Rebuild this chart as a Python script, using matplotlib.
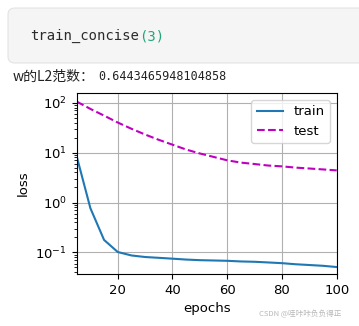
import matplotlib
matplotlib.use('Agg')
import matplotlib.pyplot as plt
from matplotlib.patches import FancyBboxPatch

# 每 5 个 epoch 记录一次损失
epochs = [5, 10, 15, 20, 25, 30, 35, 40, 45, 50,
          55, 60, 65, 70, 75, 80, 85, 90, 95, 100]
train_loss = [8.4, 0.77, 0.178, 0.102, 0.087, 0.081, 0.078, 0.075, 0.072, 0.070,
              0.069, 0.068, 0.066, 0.065, 0.063, 0.061, 0.058, 0.056, 0.054, 0.051]
test_loss = [105, 75, 55, 40, 30, 23, 18, 14.4, 11.5, 9.6,
             8.2, 7.0, 6.3, 5.9, 5.5, 5.3, 5.0, 4.8, 4.6, 4.4]
legend_labels = ['train', 'test']
code_text = 'train_concise'
code_arg = '(3)'
norm_label = 'w的L2范数：'
norm_value = '0.6443465948104858'
watermark = 'CSDN @哇咔咔负负得正'

W, H = 359, 326
fig = plt.figure(figsize=(W / 100, H / 100), dpi=100)

# 代码单元格背景
box = FancyBboxPatch((8 / W, 1 - 63 / H), 1.2, 55 / H,
                     boxstyle='round,pad=0,rounding_size=0.02',
                     transform=fig.transFigure, facecolor='#f5f5f6',
                     edgecolor='#e3e3e3', linewidth=0.8)
fig.patches.append(box)

t = fig.text(30 / W, 1 - 36 / H, code_text, family='DejaVu Sans Mono',
             fontsize=10, color='#2b2b2b', va='center')
fig.canvas.draw()
bb = t.get_window_extent()
fig.text(bb.x1 / W, 1 - 36 / H, code_arg, family='DejaVu Sans Mono',
         fontsize=10, color='#22a37a', va='center')

fig.text(13 / W, 1 - 77 / H, norm_label, family=['Noto Sans CJK SC', 'DejaVu Sans'],
         fontsize=10, color='#222222', va='center')
fig.text(98 / W, 1 - 77 / H, norm_value, family='DejaVu Sans Mono',
         fontsize=8.5, color='#222222', va='center')

ax = fig.add_axes([76.7 / W, 1 - 274 / H, 260 / W, 180.7 / H])
ax.plot(epochs, train_loss, color='#1f77b4', linewidth=1.5, label=legend_labels[0])
ax.plot(epochs, test_loss, color='m', linestyle='--', linewidth=1.5, label=legend_labels[1])
ax.set_yscale('log')
ax.set_xlim(5, 100)
ax.set_ylim(0.037, 154)
ax.set_xticks([20, 40, 60, 80, 100])
ax.grid(True, color='#b0b0b0', linewidth=0.8)
ax.tick_params(labelsize=9.5)
ax.set_xlabel('epochs', fontsize=9.5)
ax.set_ylabel('loss', fontsize=9.5)
ax.legend(loc='upper right', fontsize=9.5)

fig.text(300 / W, 1 - 314 / H, watermark, family=['Noto Sans CJK SC', 'DejaVu Sans'],
         fontsize=5.5, color='#b8b8b8', ha='center', va='center')

fig.savefig('out.png', dpi=100)
